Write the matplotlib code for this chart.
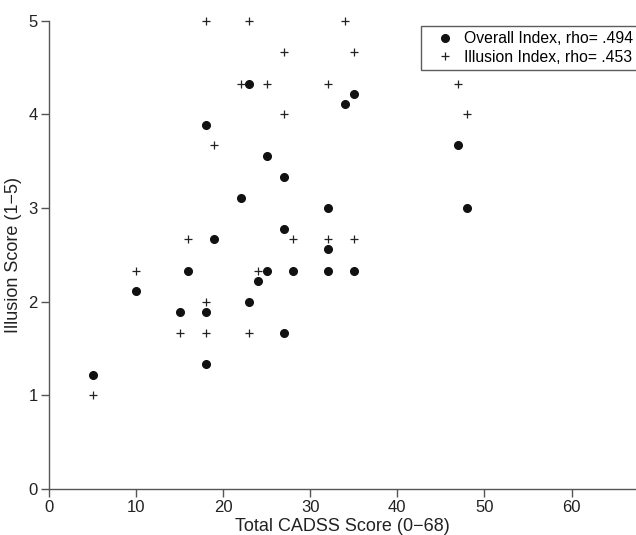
import matplotlib
matplotlib.use("Agg")
import matplotlib.pyplot as plt

plt.rcParams['font.family'] = ['Liberation Sans', 'DejaVu Sans']

overall_x = [5, 10, 15, 16, 18, 18, 18, 19, 22, 23, 23, 24, 25, 25, 27, 27, 27, 28, 32, 32, 32, 34, 35, 35, 47, 48]
overall_y = [1.22, 2.11, 1.89, 2.33, 3.89, 1.89, 1.33, 2.67, 3.11, 4.33, 2.0, 2.22, 3.56, 2.33, 3.33, 2.78, 1.67, 2.33,
             3.0, 2.56, 2.33, 4.11, 4.22, 2.33, 3.67, 3.0]

illusion_x = [5, 10, 15, 16, 18, 18, 18, 19, 22, 23, 23, 24, 25, 27, 27, 28, 32, 32, 34, 35, 35, 47, 48]
illusion_y = [1.0, 2.33, 1.67, 2.67, 5.0, 2.0, 1.67, 3.67, 4.33, 5.0, 1.67, 2.33, 4.33, 4.67, 4.0, 2.67, 4.33, 2.67,
              5.0, 4.67, 2.67, 4.33, 4.0]

x_ticks = [0, 10, 20, 30, 40, 50, 60]
y_ticks = [0, 1, 2, 3, 4, 5]
overall_label = "Overall Index, rho= .494"
illusion_label = "Illusion Index, rho= .453"

fig = plt.figure(figsize=(6.36, 5.35), dpi=100)
ax = fig.add_axes([0.077, 0.086, 0.923, 0.875])

ax.plot(overall_x, overall_y, linestyle='none', marker='o', ms=5.5, color='#111111',
        mec='#111111', label=overall_label, clip_on=False)
ax.plot(illusion_x, illusion_y, linestyle='none', marker='+', ms=5.8, mew=0.9, color='#222222',
        label=illusion_label, clip_on=False)

ax.set_xlim(0, 67.4)
ax.set_ylim(0, 5)
ax.set_xticks(x_ticks)
ax.set_yticks(y_ticks)

for s in ['top', 'right']:
    ax.spines[s].set_visible(False)
for s in ['left', 'bottom']:
    ax.spines[s].set_color('#555555')
    ax.spines[s].set_linewidth(1.0)
ax.tick_params(axis='both', direction='out', length=5.5, width=1.0, color='#555555',
               labelsize=12, labelcolor='#222222', pad=2.5)

ax.set_xlabel("Total CADSS Score (0\u221268)", fontsize=13, color='#222222', labelpad=2)
ax.set_ylabel("Illusion Score (1\u22125)", fontsize=13, color='#222222', labelpad=5)

leg = ax.legend(loc='upper right', bbox_to_anchor=(1.005, 0.99), fontsize=11.3, frameon=True,
                fancybox=False, edgecolor='#333333', handlelength=2.3, handletextpad=0.1,
                borderpad=0.35, labelspacing=0.25, borderaxespad=0.0)
leg.get_frame().set_linewidth(1.0)

fig.savefig("out.png", dpi=100)
